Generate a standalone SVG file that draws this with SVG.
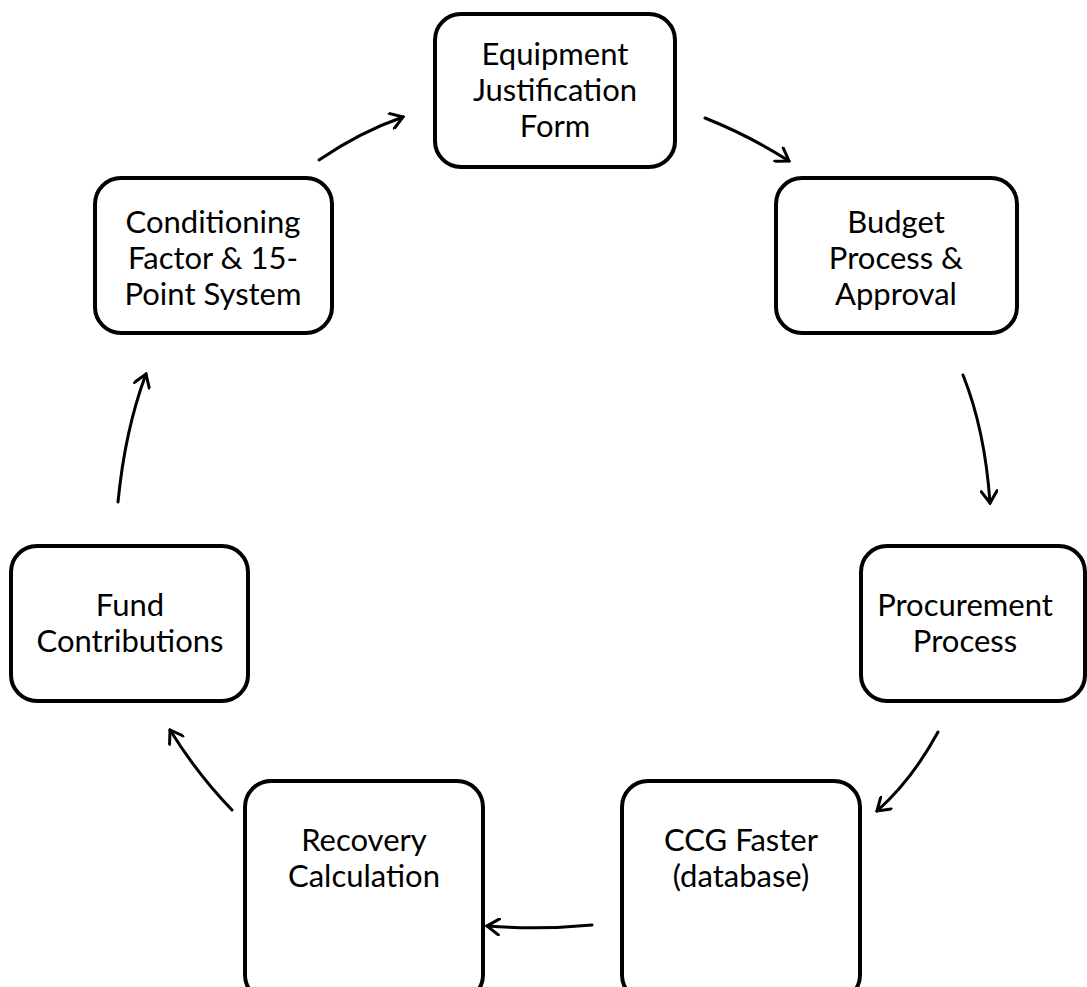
<svg xmlns="http://www.w3.org/2000/svg" width="1087" height="987" viewBox="0 0 1087 987">
<defs>
<style>
.box{fill:#fff;stroke:#000;stroke-width:4}
.lbl{font-family:Lato,"Liberation Sans",sans-serif;font-size:31px;fill:#000;text-anchor:middle}
.arr{fill:none;stroke:#000;stroke-width:3;stroke-linecap:round;marker-end:url(#head)}
</style>
<marker id="head" viewBox="-14 -9 16 18" markerWidth="16" markerHeight="18" refX="0" refY="0" orient="auto" markerUnits="userSpaceOnUse">
<path d="M-12,-8 L0,0 L-12,8" fill="none" stroke="#000" stroke-width="3" stroke-linecap="round" stroke-linejoin="miter"/>
</marker>
</defs>
<rect width="1087" height="987" fill="#fff"/>
<g id="connectors">
<path class="arr" d="M319,160 Q360,132 403,117"/>
<path class="arr" d="M705,118 Q750,136 789,161"/>
<path class="arr" d="M963,375 Q985,430 990,503"/>
<path class="arr" d="M938,732 Q912,780 877,811"/>
<path class="arr" d="M592,925 Q540,930 487,926"/>
<path class="arr" d="M232,810 Q198,775 170,730"/>
<path class="arr" d="M118,502 Q125,430 146,374"/>
</g>
<g id="equipment">
<rect class="box" x="435" y="14" width="240" height="153" rx="26"/>
<text class="lbl" x="555" y="65">Equipment</text>
<text class="lbl" x="555" y="101">Justification</text>
<text class="lbl" x="555" y="137">Form</text>
</g>
<g id="budget">
<rect class="box" x="776" y="178" width="241" height="155" rx="26"/>
<text class="lbl" x="896" y="233">Budget</text>
<text class="lbl" x="896" y="269">Process &amp;</text>
<text class="lbl" x="896" y="305">Approval</text>
</g>
<g id="procurement">
<rect class="box" x="861" y="546" width="224" height="155" rx="26"/>
<text class="lbl" x="965" y="616">Procurement</text>
<text class="lbl" x="965" y="652">Process</text>
</g>
<g id="ccg">
<rect class="box" x="622" y="781" width="238" height="220" rx="26"/>
<text class="lbl" x="741" y="851">CCG Faster</text>
<text class="lbl" x="741" y="887">(database)</text>
</g>
<g id="recovery">
<rect class="box" x="245" y="781" width="238" height="220" rx="26"/>
<text class="lbl" x="364" y="851">Recovery</text>
<text class="lbl" x="364" y="887">Calculation</text>
</g>
<g id="fund">
<rect class="box" x="11" y="546" width="237" height="155" rx="26"/>
<text class="lbl" x="130" y="616">Fund</text>
<text class="lbl" x="130" y="652">Contributions</text>
</g>
<g id="conditioning">
<rect class="box" x="95" y="178" width="237" height="155" rx="26"/>
<text class="lbl" x="213" y="233">Conditioning</text>
<text class="lbl" x="213" y="269">Factor &amp; 15-</text>
<text class="lbl" x="213" y="305">Point System</text>
</g>
</svg>
